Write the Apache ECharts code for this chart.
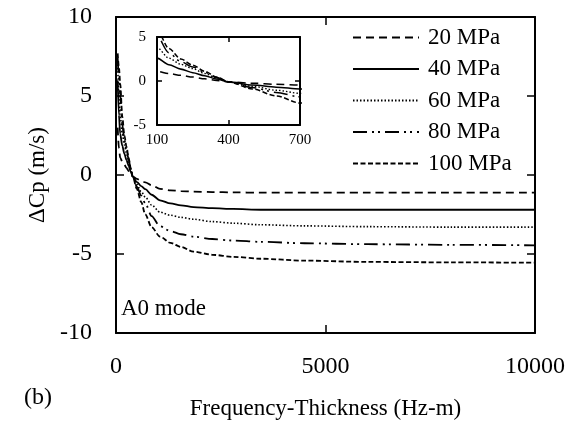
<!DOCTYPE html>
<html><head><meta charset="utf-8">
<script src="https://cdn.jsdelivr.net/npm/echarts@6/dist/echarts.min.js"></script>
<style>html,body{margin:0;padding:0;background:#fff}#c{width:569px;height:435px}</style>
</head><body><div id="c"></div>
<script>
// Frequency-thickness sample points (Hz-m)
const freq = [40, 70, 100, 150, 200, 250, 300, 350, 400, 500, 600, 700, 850, 1050, 1300, 1550, 1850, 2300, 2800, 3450, 4500, 6000, 8000, 10000];
// Delta Cp (m/s) for each stress level
const dcp20  = [3.0, 1.7, 1.1, 0.85, 0.65, 0.45, 0.25, 0.07, -0.1, -0.25, -0.37, -0.47, -0.65, -0.88, -0.97, -1.02, -1.05, -1.08, -1.1, -1.12, -1.12, -1.12, -1.12, -1.12];
const dcp40  = [6.0, 3.8, 2.6, 1.85, 1.35, 0.95, 0.6, 0.22, -0.1, -0.45, -0.7, -0.9, -1.25, -1.6, -1.8, -1.92, -2.03, -2.1, -2.15, -2.2, -2.2, -2.2, -2.2, -2.2];
const dcp60  = [7.0, 5.0, 3.8, 2.6, 1.9, 1.4, 0.85, 0.35, -0.1, -0.6, -1.05, -1.4, -1.9, -2.35, -2.55, -2.68, -2.8, -2.95, -3.05, -3.15, -3.22, -3.27, -3.3, -3.3];
const dcp80  = [7.4, 6.2, 5.1, 3.2, 2.2, 1.6, 1.0, 0.4, -0.1, -0.75, -1.3, -1.8, -2.6, -3.25, -3.55, -3.75, -3.9, -4.05, -4.15, -4.23, -4.32, -4.38, -4.42, -4.45];
const dcp100 = [7.7, 6.8, 5.8, 3.7, 2.5, 1.8, 1.1, 0.45, -0.1, -0.9, -1.7, -2.5, -3.3, -3.9, -4.3, -4.55, -4.85, -5.05, -5.18, -5.3, -5.42, -5.5, -5.53, -5.55];
const seriesNames = ['20 MPa', '40 MPa', '60 MPa', '80 MPa', '100 MPa'];
const seriesValues = [dcp20, dcp40, dcp60, dcp80, dcp100];
// Tick labels
const xTickValues = [0, 5000, 10000];
const yTickValues = [-10, -5, 0, 5, 10];
const insetXTickValues = [100, 400, 700];
const insetYTickValues = [-5, 0, 5];

const FONT = '"Liberation Serif", "Times New Roman", serif';
const dashStyles = [
  {type: [8, 5], width: 1.8},
  {type: 'solid', width: 1.8},
  {type: [1.5, 2], width: 1.6},
  {type: [14, 5, 2, 4, 2, 5], width: 1.8},
  {type: [5, 2.5], width: 1.8}
];

function mkSeries(xi, yi, widthScale) {
  return seriesNames.map((n, k) => ({
    name: n, type: 'line', xAxisIndex: xi, yAxisIndex: yi,
    showSymbol: false, symbol: 'none', smooth: 0.3, smoothMonotone: 'x',
    clip: true, silent: true,
    lineStyle: {color: '#000', type: dashStyles[k].type, width: dashStyles[k].width * widthScale},
    itemStyle: {color: '#000'},
    data: freq.map((f, i) => [f, seriesValues[k][i]])
  }));
}

const plain = v => String(v);
const lineCol = {lineStyle: {color: '#000', width: 2}};
const tickMain = {show: true, inside: true, length: 8, lineStyle: {color: '#000', width: 1.5}};
const chart = echarts.init(document.getElementById('c'), null, {renderer: 'canvas'});
chart.setOption({
  backgroundColor: '#fff',
  animation: false,
  textStyle: {fontFamily: FONT, color: '#000'},
  title: [
    {text: 'A0 mode', left: 121, top: 297, padding: 0, textStyle: {fontFamily: FONT, fontSize: 23, fontWeight: 'normal', color: '#000'}},
    {text: '(b)', left: 24, top: 386, padding: 0, textStyle: {fontFamily: FONT, fontSize: 24, fontWeight: 'normal', color: '#000'}}
  ],
  legend: {
    orient: 'vertical', left: 352, top: 26, padding: 0,
    itemWidth: 66, itemHeight: 14, itemGap: 8.5,
    data: seriesNames,
    itemStyle: {opacity: 0},
    textStyle: {fontFamily: FONT, fontSize: 23, color: '#000', padding: [0, 0, 0, 4]},
    selectedMode: false
  },
  grid: [
    {left: 116, top: 17, width: 419, height: 316, containLabel: false},
    {left: 157, top: 37, width: 143, height: 88, show: true, backgroundColor: '#fff', borderWidth: 0, z: 5}
  ],
  xAxis: [
    {gridIndex: 0, type: 'value', position: 'bottom', min: 0, max: 10000, interval: 5000,
     axisLine: {show: true, onZero: false, ...lineCol}, axisTick: tickMain,
     axisLabel: {margin: 22, fontSize: 24, fontFamily: FONT, color: '#000', formatter: plain},
     splitLine: {show: false},
     name: 'Frequency-Thickness (Hz-m)', nameLocation: 'middle', nameGap: 64,
     nameTextStyle: {fontSize: 23, fontFamily: FONT, color: '#000'}},
    {gridIndex: 0, type: 'value', position: 'top', min: 0, max: 10000, interval: 5000,
     axisLine: {show: true, onZero: false, ...lineCol}, axisTick: tickMain,
     axisLabel: {show: false}, splitLine: {show: false}},
    {gridIndex: 1, type: 'value', position: 'bottom', min: 100, max: 700,
     axisLine: {show: true, onZero: false, ...lineCol},
     axisTick: {show: true, inside: true, length: 5, customValues: insetXTickValues, lineStyle: {color: '#000', width: 1.5}},
     axisLabel: {margin: 8, fontSize: 15, fontFamily: FONT, color: '#000', customValues: insetXTickValues, formatter: plain},
     splitLine: {show: false}, z: 6},
    {gridIndex: 1, type: 'value', position: 'top', min: 100, max: 700,
     axisLine: {show: true, onZero: false, ...lineCol},
     axisTick: {show: true, inside: true, length: 5, customValues: insetXTickValues, lineStyle: {color: '#000', width: 1.5}},
     axisLabel: {show: false}, splitLine: {show: false}, z: 6}
  ],
  yAxis: [
    {gridIndex: 0, type: 'value', position: 'left', min: -10, max: 10, interval: 5,
     axisLine: {show: true, onZero: false, ...lineCol}, axisTick: tickMain,
     axisLabel: {margin: 24, fontSize: 24, fontFamily: FONT, color: '#000', formatter: plain},
     splitLine: {show: false},
     name: 'ΔCp (m/s)', nameLocation: 'middle', nameGap: 64,
     nameTextStyle: {fontSize: 23, fontFamily: FONT, color: '#000'}},
    {gridIndex: 0, type: 'value', position: 'right', min: -10, max: 10, interval: 5,
     axisLine: {show: true, onZero: false, ...lineCol}, axisTick: tickMain,
     axisLabel: {show: false}, splitLine: {show: false}},
    {gridIndex: 1, type: 'value', position: 'left', min: -5, max: 5, interval: 5,
     axisLine: {show: true, onZero: false, ...lineCol},
     axisTick: {show: true, inside: true, length: 5, lineStyle: {color: '#000', width: 1.5}},
     axisLabel: {margin: 11, fontSize: 15, fontFamily: FONT, color: '#000', formatter: plain},
     splitLine: {show: false}, z: 6},
    {gridIndex: 1, type: 'value', position: 'right', min: -5, max: 5, interval: 5,
     axisLine: {show: true, onZero: false, ...lineCol},
     axisTick: {show: true, inside: true, length: 5, lineStyle: {color: '#000', width: 1.5}},
     axisLabel: {show: false}, splitLine: {show: false}, z: 6}
  ],
  series: [...mkSeries(0, 0, 1), ...mkSeries(2, 2, 0.85).map(s => Object.assign(s, {z: 7}))]
});
</script>
</body></html>
